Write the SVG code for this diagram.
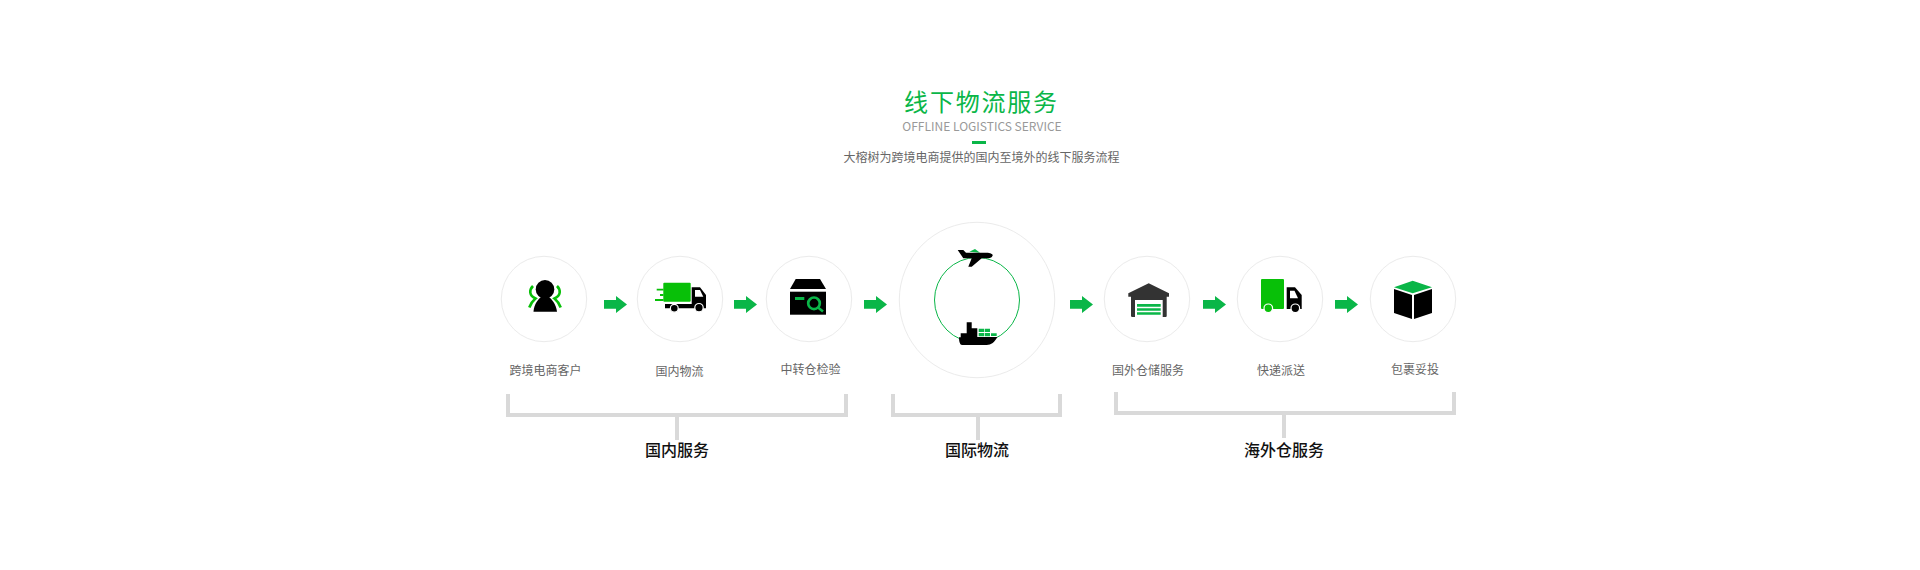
<svg xmlns="http://www.w3.org/2000/svg" width="1920" height="570" viewBox="0 0 1920 570">
<style>
text{font-family:"Noto Sans CJK SC","Noto Sans",sans-serif;text-anchor:middle}
.l{font-size:12px;fill:#666}
.g{font-size:16px;fill:#111;font-weight:500}
.c{fill:#fff;stroke:#ebebeb;stroke-width:1}
.gr{fill:#0ab648}
.lg{fill:#08c008}
.k{fill:#000}
.w{stroke:#fff;stroke-width:1.200}
.a{fill:none;stroke:#08c008;stroke-width:2.600}
.b{fill:none;stroke:#d9d9d9;stroke-width:4}
</style>
<defs>
<path id="arrow" class="gr" d="M0 4H12V0L23 8.500L12 17V12.700H0Z"/>
</defs>
<rect width="1920" height="570" fill="#fff"/>
<g id="title">
<text x="981.500" y="110.500" font-size="24" letter-spacing="1.800" fill="#0ab648">线下物流服务</text>
<text x="982" y="130.500" font-size="12" fill="#999">OFFLINE LOGISTICS SERVICE</text>
<rect x="972" y="141" width="14" height="3" fill="#0ab648"/>
<text x="981.500" y="161.500" class="l">大榕树为跨境电商提供的国内至境外的线下服务流程</text>
</g>
<g id="connectors">
<use href="#arrow" x="604" y="296"/>
<use href="#arrow" x="734" y="296"/>
<use href="#arrow" x="864" y="296"/>
<use href="#arrow" x="1070" y="296"/>
<use href="#arrow" x="1203" y="296"/>
<use href="#arrow" x="1335" y="296"/>
<path class="b" d="M508 394V415H846V394M677 415V440"/>
<path class="b" d="M893 394V415H1060V394M978 415V440"/>
<path class="b" d="M1116 392V413H1454V392M1284 413V438"/>
</g>
<g id="node-customer">
<circle class="c" cx="544" cy="299" r="42.700"/>
<path class="a" d="M533 286C529 290 529 295.500 535.500 298.500C532.500 301 530.500 304 529.300 307.500"/>
<path class="a" d="M557 286C561 290 561 295.500 554.500 298.500C557.500 301 559.500 304 560.700 307.500"/>
<path class="k" d="M533.500 311.700C534 304 538 299 542 296.500H548C552 299 556 304 557 311.700Z"/>
<circle class="k" cx="545" cy="289.400" r="9.300"/>
<text x="545.500" y="375" class="l">跨境电商客户</text>
</g>
<g id="node-domestic">
<circle class="c" cx="680" cy="299" r="42.700"/>
<path class="k" d="M691.700 287.300H700L706 295V308.300H665V304H691.700Z"/>
<path fill="#fff" d="M695 290H700L703.300 296.700H695Z"/>
<rect class="lg" x="663.300" y="282.700" width="27.400" height="19" rx="1"/>
<path class="lg" d="M656.700 288.700H663.500V290.500H656.700ZM660 294H663.500V296H660ZM655 299H663.500V301H655Z"/>
<circle class="k w" cx="674.300" cy="308.300" r="3.900"/>
<circle class="k w" cx="699" cy="307.700" r="4.200"/>
<text x="679.500" y="376" class="l">国内物流</text>
</g>
<g id="node-inspection">
<circle class="c" cx="809" cy="299" r="42.700"/>
<path class="k" d="M795.700 279H820L826 289H790Z"/>
<rect class="k" x="790" y="291.700" width="36" height="23"/>
<rect class="gr" x="795" y="297" width="9.300" height="3"/>
<circle fill="none" stroke="#0ab648" stroke-width="2.700" cx="814" cy="303.300" r="5.800"/>
<path stroke="#0ab648" stroke-width="2.700" d="M818 307.500L823 311.500"/>
<text x="810.500" y="374" class="l">中转仓检验</text>
</g>
<g id="node-international">
<circle class="c" cx="977" cy="300" r="77.700"/>
<circle fill="none" stroke="#0ab648" stroke-width="1" cx="977" cy="300" r="42.500"/>
<path class="gr" d="M969.300 251.700L975 249L980 252.700Z"/>
<path class="k" d="M957.700 250H963.300L966 252.700H986.700C990 252.700 992.700 254 992.700 255C992.700 257 990 258.300 988.300 258.300H981.700L971.700 266.700H968.300L971.700 258.300H963.300Z"/>
<path class="k" d="M960.700 333.300H966.700V322.300H971.700V328.300H977.300V337H997.300C995 342 991 345 986.700 345H962C960 345 959 342 959 337.300H960.700Z"/>
<path class="gr" d="M978.700 328.700H984V332H978.700ZM984.700 328.700H990V332H984.700ZM978.700 333H984V336.300H978.700ZM984.700 333H990V336.300H984.700ZM991 333.300H996.700V336H991Z"/>
</g>
<g id="node-overseas">
<circle class="c" cx="1147" cy="299" r="42.700"/>
<path fill="#333" d="M1148.700 283.300L1169 293.300V296.700H1166.700V316C1166.700 316.600 1166 317 1165.500 317H1132.500C1132 317 1131 316.600 1131 316V296.700H1128.300V293.300Z"/>
<rect fill="#fff" x="1135" y="300" width="27.700" height="17"/>
<path class="gr" d="M1137 304H1160.700V306.700H1137ZM1137 308.300H1160.700V310.700H1137ZM1137 312.300H1160.700V314.700H1137Z"/>
<text x="1148" y="375" class="l">国外仓储服务</text>
</g>
<g id="node-express">
<circle class="c" cx="1280" cy="299" r="42.700"/>
<rect class="lg" x="1261" y="279" width="23" height="30" rx="1"/>
<path class="k" d="M1286.700 287.300H1295L1301.700 295V309H1286.700Z"/>
<path fill="#fff" d="M1290 290.700H1294.500L1298 298.300H1290Z"/>
<circle class="lg w" cx="1268.300" cy="308.300" r="4.300"/>
<circle class="k w" cx="1295.300" cy="308.300" r="4.300"/>
<text x="1281" y="375" class="l">快递派送</text>
</g>
<g id="node-package">
<circle class="c" cx="1413" cy="299" r="42.700"/>
<path class="gr" d="M1412.700 280.700L1432 287.300L1412.700 293.300L1394 287.300Z"/>
<path class="k" d="M1394 289L1412 295V319L1394 313Z"/>
<path class="k" d="M1414 295L1432 289V313L1414 319Z"/>
<text x="1415" y="374" class="l">包裹妥投</text>
</g>
<g id="group-labels">
<text x="677" y="455.500" class="g">国内服务</text>
<text x="977" y="455.500" class="g">国际物流</text>
<text x="1284" y="455.500" class="g">海外仓服务</text>
</g>
</svg>
